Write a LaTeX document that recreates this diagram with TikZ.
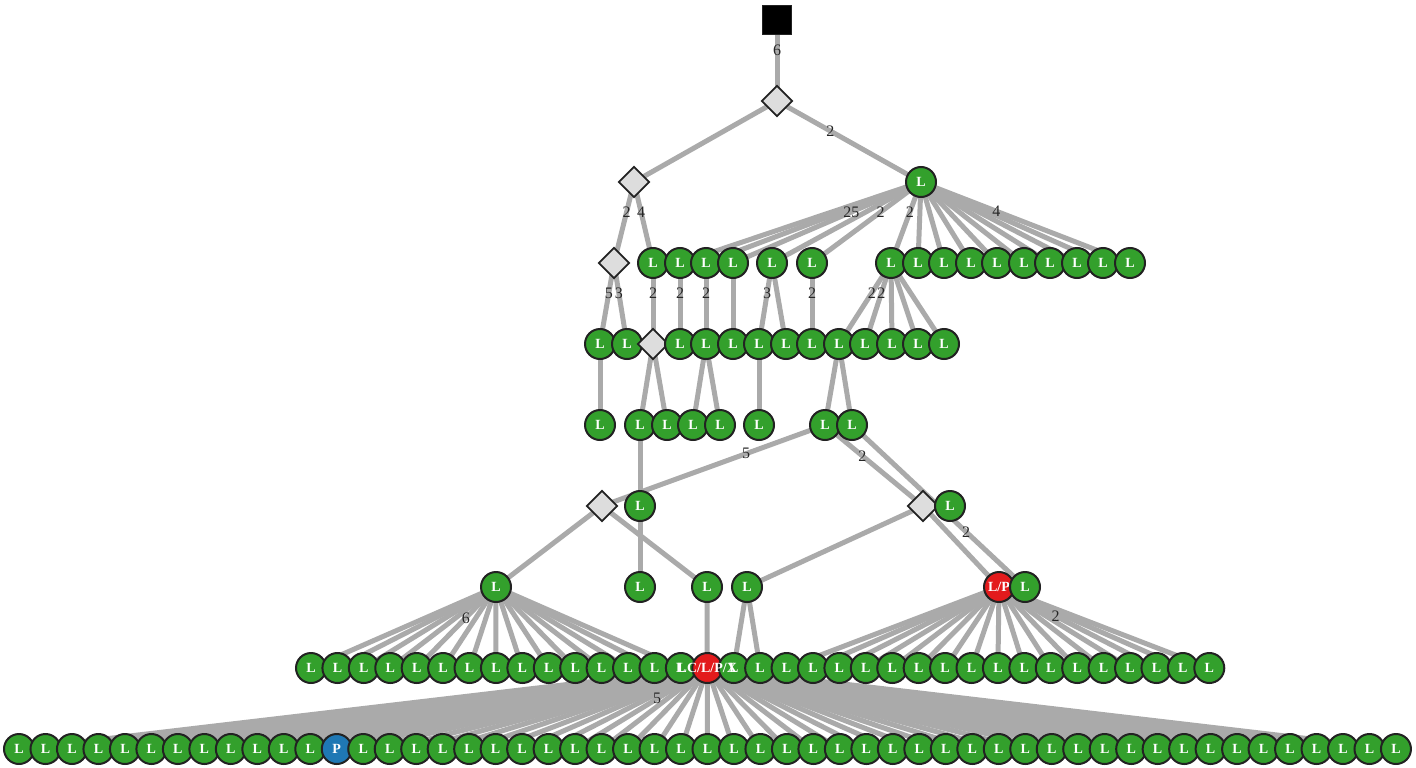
\documentclass[tikz,border=0pt]{standalone}
\usepackage{fontspec}
\setmainfont{Liberation Serif}
\usetikzlibrary{shapes.geometric}
\definecolor{leafgreen}{HTML}{33A02C}
\definecolor{leafred}{HTML}{E31A1C}
\definecolor{leafblue}{HTML}{1F78B4}
\definecolor{linkgray}{HTML}{AAAAAA}
\definecolor{rim}{HTML}{222222}
\definecolor{choicefill}{HTML}{DDDDDD}
\pgfdeclarelayer{links}
\pgfsetlayers{links,main}
\begin{document}
\begin{tikzpicture}[x=1pt, y=-1pt,
  tag/.style={text=white, font=\bfseries\fontsize{14}{14}\selectfont, inner sep=0pt},
  leaf/.style={circle, draw=rim, line width=2pt, fill=leafgreen, minimum size=30pt, tag},
  choice/.style={diamond, draw=rim, line width=1.8pt, fill=choicefill, minimum size=31pt, inner sep=0pt},
  start/.style={rectangle, draw=rim, line width=1.5pt, fill=black, minimum size=29pt, inner sep=0pt},
  link/.style={draw=linkgray, line width=5pt},
  num/.style={pos=.37, text=black!85, font=\fontsize{16}{16}\selectfont, inner sep=0pt}]
\useasboundingbox (0,0) rectangle (1416,768);
% nodes, row by row
\node[start] (n0-1) at (777,20) {};
\node[choice] (n1-1) at (777,101) {};
\node[choice] (n2-1) at (634,182) {};
\node[leaf] (n2-2) at (921,182) {L};
\foreach \x/\s/\t [count=\i] in {614/choice/, 653/leaf/L, 680/leaf/L, 706/leaf/L, 733/leaf/L,
    772/leaf/L, 812/leaf/L, 891/leaf/L, 918/leaf/L, 944/leaf/L, 971/leaf/L, 997/leaf/L,
    1024/leaf/L, 1050/leaf/L, 1077/leaf/L, 1103/leaf/L, 1130/leaf/L}
  \node[\s] (n3-\i) at (\x,263) {\t};
\foreach \x/\s/\t [count=\i] in {600/leaf/L, 627/leaf/L, 653/choice/, 680/leaf/L, 706/leaf/L,
    733/leaf/L, 759/leaf/L, 786/leaf/L, 812/leaf/L, 839/leaf/L, 865/leaf/L, 892/leaf/L,
    918/leaf/L, 944/leaf/L}
  \node[\s] (n4-\i) at (\x,344) {\t};
\foreach \x [count=\i] in {600,640,667,693,720,759,825,852}
  \node[leaf] (n5-\i) at (\x,425) {L};
\foreach \x/\s/\t [count=\i] in {602/choice/, 640/leaf/L, 923/choice/, 950/leaf/L}
  \node[\s] (n6-\i) at (\x,506) {\t};
\foreach \x [count=\i] in {496,640,707,747}
  \node[leaf] (n7-\i) at (\x,587) {L};
\node[leaf, fill=leafred] (n7-5) at (999,587) {L/P};
\node[leaf] (n7-6) at (1025,587) {L};
\foreach \i in {0,...,34} {
  \ifnum\i=15
    \node[leaf, fill=leafred] (n8-\i) at ({311+26.42*\i},668) {};
  \else
    \node[leaf] (n8-\i) at ({311+26.42*\i},668) {L};
  \fi
}
\node[tag] (n8-15t) at (n8-15) {LC/L/P/X};
\foreach \j in {0,...,52} {
  \ifnum\j=12
    \node[leaf, fill=leafblue] (n9-\j) at ({19+26.48*\j},749) {P};
  \else
    \node[leaf] (n9-\j) at ({19+26.48*\j},749) {L};
  \fi
}
% links behind the nodes
\begin{pgfonlayer}{links}
\draw[link] (n0-1.center) -- node[num] {6} (n1-1.center);
\draw[link] (n1-1.center) -- (n2-1.center);
\draw[link] (n1-1.center) -- node[num] {2} (n2-2.center);
\draw[link] (n2-1.center) -- node[num] {2} (n3-1.center);
\draw[link] (n2-1.center) -- node[num] {4} (n3-2.center);
\foreach \k in {3,4,6,9,10,11,12,13,14,15,16}
  \draw[link] (n2-2.center) -- (n3-\k.center);
\draw[link] (n2-2.center) -- node[num] {25} (n3-5.center);
\draw[link] (n2-2.center) -- node[num] {2} (n3-7.center);
\draw[link] (n2-2.center) -- node[num] {2} (n3-8.center);
\draw[link] (n2-2.center) -- node[num, pos=.36] {4} (n3-17.center);
\draw[link] (n3-1.center) -- node[num] {5} (n4-1.center);
\draw[link] (n3-1.center) -- node[num] {3} (n4-2.center);
\draw[link] (n3-2.center) -- node[num] {2} (n4-3.center);
\draw[link] (n3-3.center) -- node[num] {2} (n4-4.center);
\draw[link] (n3-4.center) -- node[num] {2} (n4-5.center);
\draw[link] (n3-5.center) -- (n4-6.center);
\draw[link] (n3-6.center) -- (n4-8.center);
\draw[link] (n3-6.center) -- node[num] {3} (n4-7.center);
\draw[link] (n3-7.center) -- node[num] {2} (n4-9.center);
\foreach \k in {12,13,14}
  \draw[link] (n3-8.center) -- (n4-\k.center);
\draw[link] (n3-8.center) -- node[num] {2} (n4-10.center);
\draw[link] (n3-8.center) -- node[num] {2} (n4-11.center);
\draw[link] (n4-1.center) -- (n5-1.center);
\draw[link] (n4-3.center) -- (n5-2.center);
\draw[link] (n4-3.center) -- (n5-3.center);
\draw[link] (n4-5.center) -- (n5-4.center);
\draw[link] (n4-5.center) -- (n5-5.center);
\draw[link] (n4-7.center) -- (n5-6.center);
\draw[link] (n4-10.center) -- (n5-7.center);
\draw[link] (n4-10.center) -- (n5-8.center);
\draw[link] (n5-2.center) -- (n6-2.center);
\draw[link] (n6-2.center) -- (n7-2.center);
\draw[link] (n6-1.center) -- (n7-1.center);
\draw[link] (n6-1.center) -- (n7-3.center);
\draw[link] (n6-3.center) -- (n7-4.center);
\draw[link] (n6-3.center) -- (n7-5.center);
\draw[link] (n5-8.center) -- node[num, pos=.66] {2} (n7-6.center);
\draw[link] (n5-7.center) -- node[num, pos=.38] {2} (n6-3.center);
\draw[link] (n5-7.center) -- node[num, pos=.354] {5} (n6-1.center);
\foreach \k in {0,...,14}
  \draw[link] (n7-1.center) -- (n8-\k.center);
\draw[link] (n7-3.center) -- (n8-15.center);
\draw[link] (n7-4.center) -- (n8-16.center);
\draw[link] (n7-4.center) -- (n8-17.center);
\foreach \k in {18,...,34}
  \draw[link] (n7-5.center) -- (n8-\k.center);
\foreach \k in {0,...,52}
  \draw[link] (n8-15.center) -- (n9-\k.center);
\path (n7-1.center) -- node[num, pos=.38] {6} (n8-4.center);
\path (n7-5.center) -- node[num, pos=.36] {2} (n8-32.center);
\path (n8-15.center) -- node[num, pos=.38] {5} (n9-21.center);
\end{pgfonlayer}
\end{tikzpicture}
\end{document}
